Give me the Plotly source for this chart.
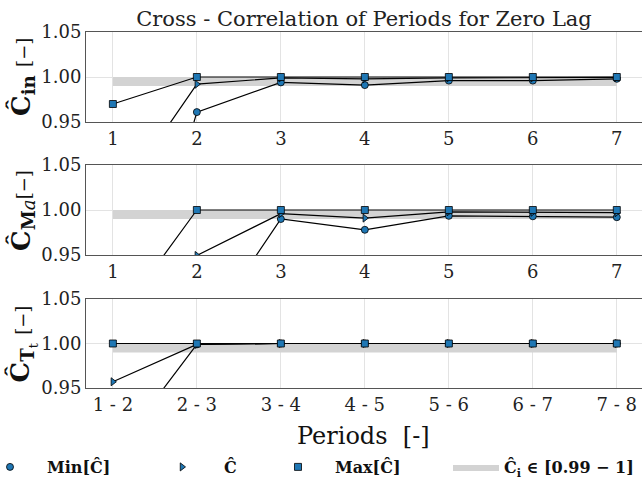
import plotly.graph_objects as go

# ---------------- data ----------------
periods = [1, 2, 3, 4, 5, 6, 7]
tick_num = ["1", "2", "3", "4", "5", "6", "7"]
tick_pairs = ["1 - 2", "2 - 3", "3 - 4", "4 - 5", "5 - 6", "6 - 7", "7 - 8"]
y_ticks = [0.95, 1.00, 1.05]
y_ticktext = ["0.95", "1.00", "1.05"]

cin_min = [0.640, 0.961, 0.994, 0.991, 0.996, 0.996, 0.998]
cin_hat = [0.857, 0.992, 0.999, 0.998, 0.999, 0.999, 0.9995]
cin_max = [0.970, 1.000, 1.000, 1.000, 1.000, 1.000, 1.000]

cma_min = [0.700, 0.852, 0.990, 0.978, 0.9935, 0.993, 0.992]
cma_hat = [0.800, 0.9495, 0.996, 0.991, 0.998, 0.9975, 0.997]
cma_max = [0.872, 1.000, 1.000, 1.000, 1.000, 1.000, 1.000]

ctt_min = [0.874, 0.999, 1.000, 1.000, 1.000, 1.000, 1.000]
ctt_hat = [0.957, 0.999, 1.000, 1.000, 1.000, 1.000, 1.000]
ctt_max = [1.000, 1.000, 1.000, 1.000, 1.000, 1.000, 1.000]

band_lo, band_hi = 0.99, 1.00

panels = [
    (cin_min, cin_hat, cin_max, tick_num),
    (cma_min, cma_hat, cma_max, tick_num),
    (ctt_min, ctt_hat, ctt_max, tick_pairs),
]
y_titles = [
    "<b>Ĉ</b><sub><b>in</b></sub> <span style='font-size:18px'>[−]</span>",
    "<b>Ĉ</b><sub><b>M</b><i>a</i></sub><span style='font-size:18px'>[−]</span>",
    "<b>Ĉ</b><sub><b>T</b><sub>t</sub></sub> <span style='font-size:18px'>[−]</span>",
]

# ---------------- layout geometry ----------------
W, H = 642, 482
FONT = "DejaVu Serif"
BLUE = "#1f77b4"
panel_px = [(32, 122), (165, 255), (299, 388)]
x_dom = [86 / W, 1.0]

fig = go.Figure()

series_style = [
    ("Min[Ĉ]", "circle", "legend"),
    ("Ĉ", "triangle-right", "legend2"),
    ("Max[Ĉ]", "square", "legend3"),
]

for i, (smin, shat, smax, labels) in enumerate(panels):
    ax = "" if i == 0 else str(i + 1)
    xa, ya = "x" + ax, "y" + ax
    # grey band
    fig.add_trace(go.Scatter(
        x=[periods[0], periods[-1], periods[-1], periods[0], periods[0]],
        y=[band_lo, band_lo, band_hi, band_hi, band_lo],
        fill="toself", fillcolor="#d3d3d3", mode="lines",
        line=dict(width=0, color="#d3d3d3"),
        xaxis=xa, yaxis=ya, showlegend=(i == 0), legend="legend4",
        name="<b>Ĉ<sub>i</sub> ∈ [0.99 − 1]</b>", hoverinfo="skip"))
    for vals, (name, sym, lg) in zip((smin, shat, smax), series_style):
        fig.add_trace(go.Scatter(
            x=periods, y=vals, mode="lines+markers",
            line=dict(color="black", width=1.2),
            marker=dict(symbol=sym, size=7, color=BLUE,
                        line=dict(color="black", width=0.8)),
            xaxis=xa, yaxis=ya, showlegend=False, name=name))
    top, bot = panel_px[i]
    common_x = dict(domain=x_dom, range=[0.68, 7.3], anchor=ya,
                    tickvals=periods, ticktext=labels, automargin=False,
                    showgrid=True, gridcolor="#e3e3e3", gridwidth=1,
                    showline=True, linecolor="#555555", linewidth=1,
                    mirror=True, zeroline=False, ticks="",
                    tickfont=dict(family=FONT, size=18, color="#222"))
    common_y = dict(domain=[1 - bot / H, 1 - top / H], range=[0.95, 1.05],
                    anchor=xa, tickvals=y_ticks, ticktext=y_ticktext,
                    automargin=False,
                    showgrid=True, gridcolor="#e3e3e3", gridwidth=1,
                    showline=True, linecolor="#555555", linewidth=1,
                    zeroline=False, ticks="",
                    tickfont=dict(family=FONT, size=18, color="#222"))
    fig.update_layout(**{"xaxis" + ax: common_x, "yaxis" + ax: common_y})
    fig.add_annotation(
        text=y_titles[i], textangle=-90, xref="paper", yref="paper",
        x=22 / W, y=1 - ((top + bot) / 2) / H, xanchor="center", yanchor="middle",
        showarrow=False, font=dict(family=FONT, size=26, color="#111"))

# legend-only marker entries
for name, sym, lg in series_style:
    fig.add_trace(go.Scatter(
        x=[None], y=[None], mode="markers", name="<b>" + name + "</b>",
        marker=dict(symbol=sym, size=7, color=BLUE, line=dict(color="black", width=0.8)),
        legend=lg, showlegend=True))

fig.add_annotation(text="Periods  [-]", xref="paper", yref="paper",
                   x=364 / W, y=1 - 436 / H, xanchor="center", yanchor="middle",
                   showarrow=False, font=dict(family=FONT, size=24, color="#111"))

leg_common = dict(orientation="h", yanchor="middle", y=1 - 467 / H, xanchor="left",
                  bgcolor="rgba(0,0,0,0)", borderwidth=0,
                  font=dict(family=FONT, size=16, color="#111"))
fig.update_layout(
    width=W, height=H, margin=dict(l=0, r=0, t=0, b=0, autoexpand=False),
    paper_bgcolor="white", plot_bgcolor="white",
    font=dict(family=FONT, color="#111"),
    title=dict(text="Cross - Correlation of Periods for Zero Lag",
               x=364 / W, xanchor="center", y=1 - 19 / H, yanchor="middle",
               font=dict(family=FONT, size=21, color="#222")),
    legend=dict(x=(10 - 37) / W, itemwidth=64, **leg_common),
    legend2=dict(x=(182 - 42) / W, itemwidth=74, **leg_common),
    legend3=dict(x=(298 - 37) / W, itemwidth=64, **leg_common),
    legend4=dict(x=448 / W, itemwidth=46, **leg_common),
)

fig.write_html("out.html")
